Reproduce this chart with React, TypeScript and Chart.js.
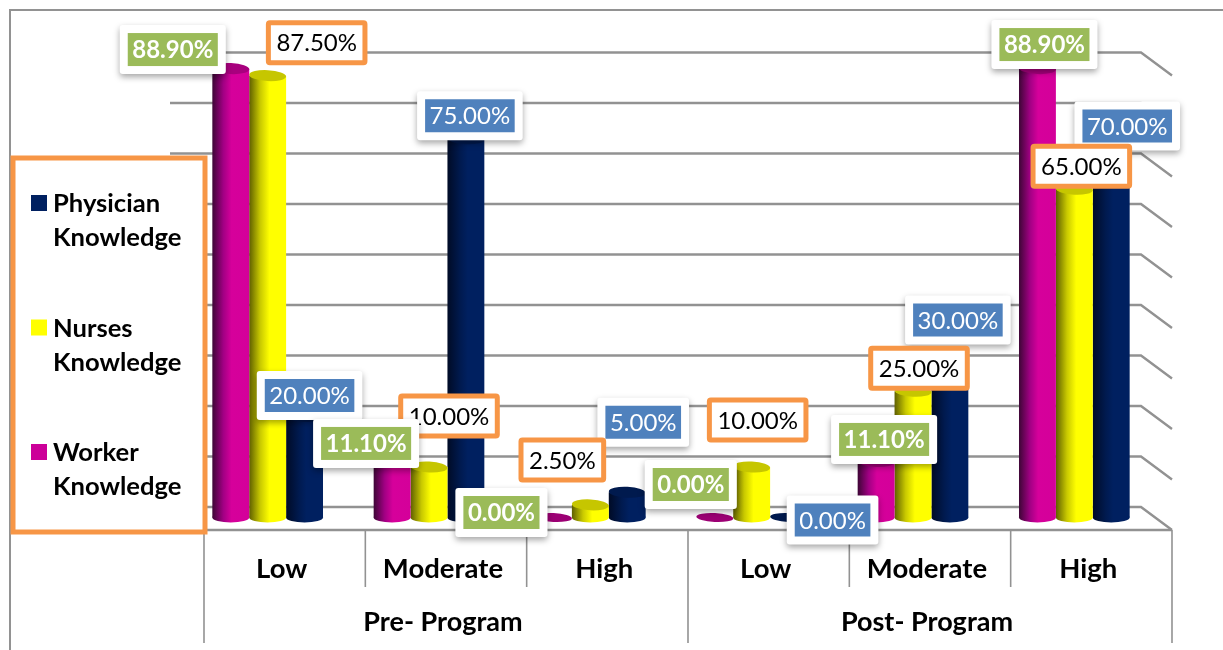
import { useEffect, useRef } from "react";
import { Chart, registerables } from "chart.js";

Chart.register(...registerables);

const levels = ["Low", "Moderate", "High", "Low", "Moderate", "High"];
const programs = ["Pre- Program", "Post- Program"];
const workerValues = [88.9, 11.1, 0, 0, 11.1, 88.9];
const nursesValues = [87.5, 10, 2.5, 10, 25, 65];
const physicianValues = [20, 75, 5, 0, 30, 70];

const FONT = "Lato, Carlito, sans-serif";
const GRID = "#929292";
const ORANGE = "#F79646";
const W = 1223;
const H = 650;
const BAR_SHARE = 0.686;
// The category bands sit in front of the bars' plane, shifted right by the 3D depth.
const FRONT_SHIFT = 17;
const TEXT_SHIFT = 14;
const WALL_RISE = 10.5;

type Look = {
  stops: [number, string][];
  cap: string;
  flat: string;
  swatch: string;
  tag: "plain" | "outline";
  tagFill: string;
  tagBold: boolean;
  tagText: string;
  nudges: [number, number][];
};

const workerLook: Look = {
  stops: [[0, "#3e0636"], [0.3, "#a20084"], [0.52, "#d6009b"], [1, "#d4009a"]],
  cap: "#a8007e",
  flat: "#9c0074",
  swatch: "#CC0099",
  tag: "plain",
  tagFill: "#9BBB59",
  tagBold: true,
  tagText: "#ffffff",
  nudges: [[-58, -19], [-26, -18], [-52, -5], [-24, -33], [8, -22], [7, -24]],
};
const nursesLook: Look = {
  stops: [[0, "#5f5f00"], [0.3, "#c9c900"], [0.55, "#ffff00"], [1, "#ffff00"]],
  cap: "#c6c600",
  flat: "#c6c600",
  swatch: "#FFFF00",
  tag: "outline",
  tagFill: "#ffffff",
  tagBold: false,
  tagText: "#000000",
  nudges: [[49, -33], [20, -51], [-28, -45], [6, -47], [6, -23], [7, -23]],
};
const physicianLook: Look = {
  stops: [[0, "#000b26"], [0.35, "#001a4f"], [0.55, "#002060"], [1, "#002060"]],
  cap: "#001a4e",
  flat: "#001a4e",
  swatch: "#002060",
  tag: "plain",
  tagFill: "#4F81BD",
  tagBold: false,
  tagText: "#ffffff",
  nudges: [[5, -21], [4, -23], [16, -70], [44, 2.5], [8, -46], [16, -38]],
};
const looks = [workerLook, nursesLook, physicianLook];

const roundedRect = (
  c: CanvasRenderingContext2D,
  x: number,
  y: number,
  w: number,
  h: number,
  r: number,
) => {
  c.beginPath();
  c.roundRect(x, y, w, h, r);
};

const barGradient = (ctx: any) => {
  const chart = ctx.chart;
  const xs = chart.scales.x;
  const look = looks[ctx.datasetIndex];
  if (!xs || ctx.dataIndex === undefined) return look.swatch;
  const barW = (xs.width / levels.length) * (BAR_SHARE / 3);
  const centre = xs.getPixelForValue(ctx.dataIndex) + (ctx.datasetIndex - 1) * barW;
  // the scales have no size yet during the first pass of an update
  if (!Number.isFinite(centre) || !Number.isFinite(barW) || barW <= 0) return look.swatch;
  const g = chart.ctx.createLinearGradient(centre - barW / 2, 0, centre + barW / 2, 0);
  look.stops.forEach(([o, col]) => g.addColorStop(o, col));
  return g;
};

const wallPlugin = {
  id: "wall",
  beforeDatasetsDraw(chart: any) {
    const c: CanvasRenderingContext2D = chart.ctx;
    const xs = chart.scales.x;
    const ys = chart.scales.y;
    c.save();
    c.strokeStyle = GRID;

    // outer chart frame
    c.lineWidth = 2;
    c.beginPath();
    c.moveTo(W, 10);
    c.lineTo(10, 10);
    c.lineTo(10, H);
    c.stroke();

    // back wall lines with their side-wall returns
    c.lineWidth = 2.4;
    ys.ticks.forEach((t: any) => {
      const py = ys.getPixelForValue(t.value) - WALL_RISE;
      c.beginPath();
      c.moveTo(xs.left - 17, py);
      c.lineTo(xs.right - 14, py);
      c.lineTo(xs.right + FRONT_SHIFT, py + 23);
      c.stroke();
    });

    // floor edge and the category dividers beneath it
    const floor = ys.getPixelForValue(0) - WALL_RISE + 23;
    const left = xs.left + FRONT_SHIFT;
    const band = xs.width / levels.length;
    c.beginPath();
    c.moveTo(left, floor);
    c.lineTo(xs.right + FRONT_SHIFT, floor);
    c.stroke();
    c.lineWidth = 1.6;
    levels.forEach((_, i) => {
      const long = i % 3 === 0;
      c.beginPath();
      c.moveTo(left + i * band, floor);
      c.lineTo(left + i * band, long ? floor + 113 : floor + 57);
      c.stroke();
    });
    c.beginPath();
    c.moveTo(left + levels.length * band, floor);
    c.lineTo(left + levels.length * band, floor + 113);
    c.stroke();
    c.restore();
  },
};

const capsPlugin = {
  id: "caps",
  afterDatasetDraw(chart: any, args: any) {
    const c: CanvasRenderingContext2D = chart.ctx;
    const look = looks[args.index];
    const meta = chart.getDatasetMeta(args.index);
    c.save();
    meta.data.forEach((el: any) => {
      const { x, y, base, width } = el.getProps(["x", "y", "base", "width"], true);
      const rx = width / 2;
      if (Math.abs(base - y) < 0.5) {
        c.fillStyle = look.flat;
        c.beginPath();
        c.ellipse(x, base, rx, 4.5, 0.05, 0, Math.PI * 2);
        c.fill();
        return;
      }
      c.fillStyle = el.options.backgroundColor;
      c.beginPath();
      c.ellipse(x, base, rx, 5, 0, 0, Math.PI * 2);
      c.fill();
      c.fillStyle = look.cap;
      c.beginPath();
      c.ellipse(x, y, rx, 5.5, 0.05, 0, Math.PI * 2);
      c.fill();
    });
    c.restore();
  },
};

const overlayPlugin = {
  id: "overlay",
  afterDatasetsDraw(chart: any) {
    const c: CanvasRenderingContext2D = chart.ctx;
    const xs = chart.scales.x;
    c.save();

    // program names under the level names
    c.fillStyle = "#000";
    c.font = `bold 27px ${FONT}`;
    c.textAlign = "center";
    c.textBaseline = "middle";
    programs.forEach((name, i) => {
      const mid = xs.getPixelForValue(i * 3 + 1) + TEXT_SHIFT;
      c.fillText(name, mid, 622);
    });

    // legend panel, last series first
    c.fillStyle = "#fff";
    c.fillRect(13, 158, 192, 374);
    c.strokeStyle = ORANGE;
    c.lineWidth = 5;
    c.strokeRect(13, 158, 192, 374);
    c.textAlign = "left";
    c.font = `bold 25.6px ${FONT}`;
    const entries = [...chart.data.datasets.keys()].reverse();
    entries.forEach((idx: number, row: number) => {
      const top = 203 + row * 124.5;
      c.fillStyle = looks[idx].swatch;
      c.fillRect(31, top - 8, 16, 16);
      c.fillStyle = "#000";
      chart.data.datasets[idx].label.split(" ").forEach((word: string, ln: number) => {
        c.fillText(word, 53, top + 1 + ln * 34);
      });
    });

    // value tags, drawn so the pink series' tags stay on top
    [2, 1, 0].forEach((idx) => {
      const look = looks[idx];
      const meta = chart.getDatasetMeta(idx);
      const values: number[] = chart.data.datasets[idx].data;
      meta.data.forEach((el: any, i: number) => {
        const { x, y } = el.getProps(["x", "y"], true);
        const cx = x + look.nudges[i][0];
        const cy = y + look.nudges[i][1];
        const text = `${values[i].toFixed(2)}%`;
        c.font = `${look.tagBold ? "bold " : ""}24px ${FONT}`;
        const tw = c.measureText(text).width;
        c.textAlign = "center";
        if (look.tag === "plain") {
          const innerW = tw + 9;
          c.save();
          c.shadowColor = "rgba(0,0,0,0.35)";
          c.shadowBlur = 6;
          c.shadowOffsetY = 3;
          c.fillStyle = "#fff";
          roundedRect(c, cx - innerW / 2 - 8, cy - 24.5, innerW + 16, 49, 3);
          c.fill();
          c.restore();
          c.fillStyle = look.tagFill;
          c.fillRect(cx - innerW / 2, cy - 16.5, innerW, 33);
        } else {
          const outerW = tw + 21;
          c.fillStyle = look.tagFill;
          c.strokeStyle = ORANGE;
          c.lineWidth = 5;
          roundedRect(c, cx - outerW / 2 + 2.5, cy - 20, outerW - 5, 40, 1.5);
          c.fill();
          c.stroke();
        }
        c.fillStyle = look.tagText;
        c.fillText(text, cx, cy + 1);
      });
    });
    c.restore();
  },
};

export default function App() {
  const ref = useRef<HTMLCanvasElement>(null);
  useEffect(() => {
    if (!ref.current) return;
    const barStyle = {
      backgroundColor: barGradient,
      borderWidth: 0,
      barPercentage: 1,
      categoryPercentage: BAR_SHARE,
    };
    const chart = new Chart(ref.current, {
      type: "bar",
      data: {
        labels: levels,
        datasets: [
          { label: "Worker Knowledge", data: workerValues, ...barStyle },
          { label: "Nurses Knowledge", data: nursesValues, ...barStyle },
          { label: "Physician Knowledge", data: physicianValues, ...barStyle },
        ],
      },
      options: {
        responsive: false,
        animation: false,
        devicePixelRatio: 1,
        layout: { padding: { left: 187, right: 68, top: 63, bottom: 0 } },
        plugins: {
          colors: { enabled: false },
          legend: { display: false },
          tooltip: { enabled: false },
          title: { display: false },
        },
        scales: {
          x: {
            grid: { display: false },
            border: { display: false },
            afterFit: (s: any) => {
              s.height = 132.5;
            },
            ticks: {
              autoSkip: false,
              maxRotation: 0,
              padding: 27,
              labelOffset: TEXT_SHIFT,
              color: "#000",
              font: { family: FONT, size: 27.5, weight: "bold" },
            },
          },
          y: {
            display: false,
            min: 0,
            max: 90,
            ticks: { stepSize: 10 },
          },
        },
      },
      plugins: [wallPlugin, capsPlugin, overlayPlugin],
    } as any);
    return () => chart.destroy();
  }, []);
  return (
    <div style={{ position: "absolute", left: 0, top: 0, width: W, height: H }}>
      <canvas ref={ref} width={W} height={H} style={{ display: "block" }} />
    </div>
  );
}
